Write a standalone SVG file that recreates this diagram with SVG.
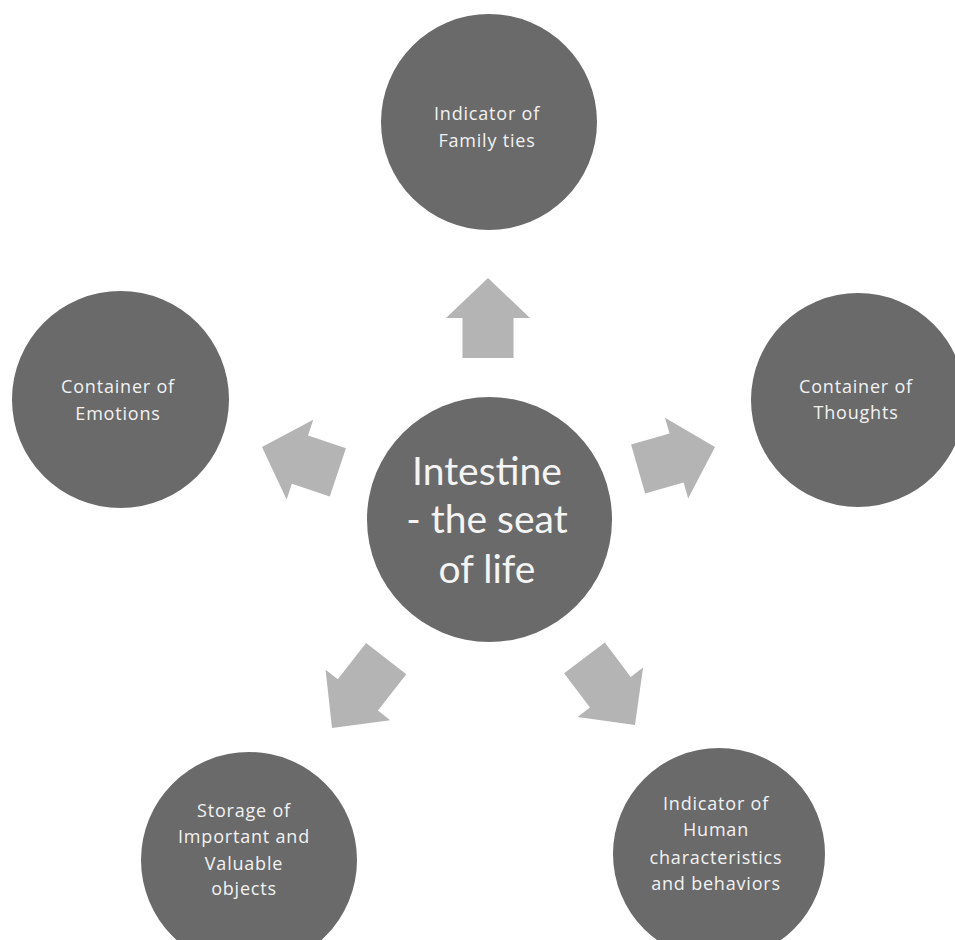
<svg xmlns="http://www.w3.org/2000/svg" width="955" height="940" viewBox="0 0 955 940">
  <style>
    .node { fill: #6a6a6a; }
    .arrow { fill: #b4b4b4; }
    .lbl { font-family: "Open Sans", "DejaVu Sans", sans-serif; font-size: 18px; letter-spacing: 0.8px; fill: #f2f2f2; text-anchor: middle; }
    .hub { font-family: Lato, "Open Sans", sans-serif; font-size: 39px; fill: #f4f4f4; text-anchor: middle; }
  </style>
  <defs>
    <!-- block arrow pointing +x, tip at origin -->
    <polygon id="blk80" points="0,0 -40,-42 -40,-25.5 -80,-25.5 -80,25.5 -40,25.5 -40,42"/>
    <polygon id="blk84" points="0,0 -41,-41 -41,-25.5 -84,-25.5 -84,25.5 -41,25.5 -41,41"/>
    <polygon id="blk88" points="0,0 -42,-41 -42,-25.5 -88,-25.5 -88,25.5 -42,25.5 -42,41"/>
  </defs>
  <rect width="955" height="940" fill="#ffffff"/>

  <g id="connectors">
    <use href="#blk80" class="arrow" transform="translate(488,278) rotate(-90)"/>
    <use href="#blk80" class="arrow" transform="translate(715,447) rotate(-16)"/>
    <use href="#blk84" class="arrow" transform="translate(635,725) rotate(53)"/>
    <use href="#blk88" class="arrow" transform="translate(332,728) rotate(128)"/>
    <use href="#blk80" class="arrow" transform="translate(262,447) rotate(198.5)"/>
  </g>

  <g id="hub">
    <circle class="node" cx="489.5" cy="519.5" r="122.5"/>
    <text class="hub" x="487" y="485">Intestine</text>
    <text class="hub" x="487" y="533">- the seat</text>
    <text class="hub" x="487" y="583">of life</text>
  </g>

  <g id="family">
    <circle class="node" cx="489" cy="122" r="108"/>
    <text class="lbl" x="487" y="120">Indicator  of</text>
    <text class="lbl" x="487" y="147">Family ties</text>
  </g>

  <g id="emotions">
    <circle class="node" cx="120.5" cy="399.5" r="108.5"/>
    <text class="lbl" x="118" y="393">Container  of</text>
    <text class="lbl" x="118" y="420">Emotions</text>
  </g>

  <g id="thoughts">
    <circle class="node" cx="858" cy="400" r="107"/>
    <text class="lbl" x="856" y="393">Container  of</text>
    <text class="lbl" x="856" y="419">Thoughts</text>
  </g>

  <g id="storage">
    <circle class="node" cx="249" cy="860" r="108"/>
    <text class="lbl" x="244" y="817">Storage of</text>
    <text class="lbl" x="244" y="843">Important and</text>
    <text class="lbl" x="244" y="870">Valuable</text>
    <text class="lbl" x="244" y="895">objects</text>
  </g>

  <g id="human">
    <circle class="node" cx="719" cy="854" r="106"/>
    <text class="lbl" x="716" y="810">Indicator  of</text>
    <text class="lbl" x="716" y="836">Human</text>
    <text class="lbl" x="716" y="864">characteristics</text>
    <text class="lbl" x="716" y="890">and behaviors</text>
  </g>
</svg>
